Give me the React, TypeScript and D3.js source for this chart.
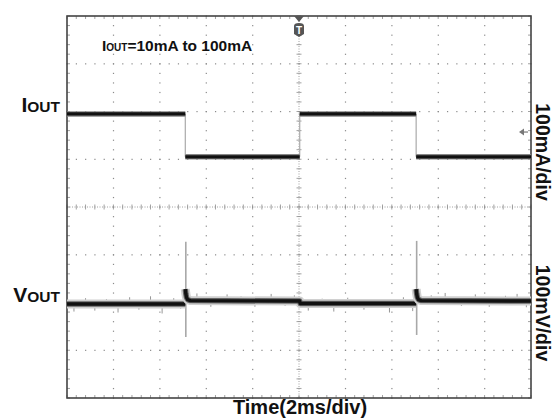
import React from "react";
import * as d3 from "d3";

// ---- data ----
// Time axis: 10 divisions x 2 ms
const timeDomain = [0, 20];
const divCountX = 10;
const divCountY = 8;

// Output current trace (mA), 100 mA/div
const iTimes = [0, 5.1, 5.1, 10.03, 10.03, 15.05, 15.05, 20];
const iValues = [100, 100, 10, 10, 100, 100, 10, 10];

// Output voltage trace (mV deviation, AC coupled), 100 mV/div
const vTimes = [0, 5.1, 5.1, 5.12, 5.15, 5.2, 5.32, 10.03, 10.05, 15.05, 15.05, 15.07, 15.1, 15.15, 15.27, 20];
const vValues = [-4, -4, 27, 18, 10, 5, 3, 2, -3, -3, 27, 18, 10, 5, 3, 2];

// Load-step spikes on VOUT
const spikeTimes = [5.1, 15.05];
const spikeMax = [126, 128];
const spikeMin = [-73, -69];

// Occasional noise whiskers on VOUT (time ms, mV)
const noiseT = [0.3, 0.8, 1.2, 1.7, 2.2, 2.7, 3.1, 3.6, 4.1, 4.6, 4.9, 5.6, 6.2, 6.9, 7.5, 8.1, 8.8, 9.4, 9.8, 10.4, 11.0, 11.5, 12.1, 12.8, 13.4, 13.9, 14.5, 14.9, 15.7, 16.3, 17.0, 17.6, 18.2, 18.9, 19.4, 19.8];
const noiseV = [-16, 12, -14, 10, -18, 14, -12, 16, -20, 12, -10, 16, -12, 14, 10, -12, 15, -10, 12, -14, 11, -16, 13, -12, 10, -18, 14, -15, 12, 17, -10, 14, -12, 11, 15, -13];

// Axis ranges per channel (full screen of 8 div)
const iDomain = [-495, 305];
const vDomain = [-201, 599];

const W = 558;
const H = 418;
const plot = { left: 67, right: 531, top: 16, bottom: 398 };

export default function App() {
  const x = d3.scaleLinear().domain(timeDomain).range([plot.left, plot.right]);
  const xDiv = d3.scaleLinear().domain([0, divCountX]).range([plot.left, plot.right]);
  const yDiv = d3.scaleLinear().domain([0, divCountY]).range([plot.top, plot.bottom]);
  const yI = d3.scaleLinear().domain(iDomain).range([plot.bottom, plot.top]);
  const yV = d3.scaleLinear().domain(vDomain).range([plot.bottom, plot.top]);

  const gridColor = "#8a8a8a";
  const minorX = d3.range(0, divCountX + 0.001, 0.2);
  const minorY = d3.range(0, divCountY + 0.001, 0.2);

  const dots: React.ReactNode[] = [];
  for (let gx = 1; gx < divCountX; gx++) {
    if (gx === 5) continue;
    minorY.forEach((my, k) =>
      dots.push(<rect key={`gx${gx}-${k}`} x={xDiv(gx) - 0.5} y={yDiv(my) - 0.5} width={1.2} height={1.2} fill={gridColor} />)
    );
  }
  for (let gy = 1; gy < divCountY; gy++) {
    if (gy === 4) continue;
    minorX.forEach((mx, k) =>
      dots.push(<rect key={`gy${gy}-${k}`} x={xDiv(mx) - 0.5} y={yDiv(gy) - 0.5} width={1.2} height={1.2} fill={gridColor} />)
    );
  }

  const frameTicks: React.ReactNode[] = [];
  minorX.forEach((mx, k) => {
    frameTicks.push(<line key={`ft${k}`} x1={xDiv(mx)} x2={xDiv(mx)} y1={plot.top} y2={plot.top + 3} stroke={gridColor} strokeWidth={0.8} />);
    frameTicks.push(<line key={`fb${k}`} x1={xDiv(mx)} x2={xDiv(mx)} y1={plot.bottom} y2={plot.bottom - 3} stroke={gridColor} strokeWidth={0.8} />);
    frameTicks.push(<line key={`cx${k}`} x1={xDiv(mx)} x2={xDiv(mx)} y1={yDiv(4) - 2.5} y2={yDiv(4) + 2.5} stroke={gridColor} strokeWidth={0.8} />);
  });
  minorY.forEach((my, k) => {
    frameTicks.push(<line key={`fl${k}`} y1={yDiv(my)} y2={yDiv(my)} x1={plot.left} x2={plot.left + 3} stroke={gridColor} strokeWidth={0.8} />);
    frameTicks.push(<line key={`fr${k}`} y1={yDiv(my)} y2={yDiv(my)} x1={plot.right} x2={plot.right - 3} stroke={gridColor} strokeWidth={0.8} />);
    frameTicks.push(<line key={`cy${k}`} y1={yDiv(my)} y2={yDiv(my)} x1={xDiv(5) - 2.5} x2={xDiv(5) + 2.5} stroke={gridColor} strokeWidth={0.8} />);
  });

  const iHoriz: React.ReactNode[] = [];
  const iVert: React.ReactNode[] = [];
  for (let k = 0; k < iTimes.length - 1; k++) {
    const x1 = x(iTimes[k]), x2 = x(iTimes[k + 1]);
    const y1 = yI(iValues[k]), y2 = yI(iValues[k + 1]);
    if (iTimes[k] === iTimes[k + 1]) {
      iVert.push(<line key={`iv${k}`} x1={x1} x2={x2} y1={y1} y2={y2} stroke="#b0b0b0" strokeWidth={1.3} />);
    } else {
      iHoriz.push(
        <g key={`ih${k}`}>
          <line x1={x1} x2={x2} y1={y1} y2={y2} stroke="#888" strokeWidth={5.5} />
          <line x1={x1} x2={x2} y1={y1} y2={y2} stroke="#111" strokeWidth={3.4} />
        </g>
      );
    }
  }

  const vPts = vTimes.map((t, k) => [x(t), yV(vValues[k])] as [number, number]);
  const vSegs: [number, number][][] = [];
  let cur: [number, number][] = [vPts[0]];
  for (let k = 1; k < vPts.length; k++) {
    if (vTimes[k] === vTimes[k - 1]) {
      vSegs.push(cur);
      cur = [vPts[k]];
    } else cur.push(vPts[k]);
  }
  vSegs.push(cur);
  const line = d3.line();

  const baseAt = (t: number) => ((t < 5.1 || (t > 10.03 && t < 15.05)) ? -4 : 2);

  return (
    <svg width={W} height={H} style={{ position: "absolute", left: 0, top: 0, background: "#fff" }} fontFamily="'Liberation Sans', Arial, sans-serif">
      <rect x={0} y={0} width={W} height={H} fill="#fff" />
      {dots}
      <line x1={plot.left} x2={plot.right} y1={yDiv(4)} y2={yDiv(4)} stroke={gridColor} strokeWidth={0.8} strokeDasharray="1,1.5" />
      <line x1={xDiv(5)} x2={xDiv(5)} y1={plot.top} y2={plot.bottom} stroke={gridColor} strokeWidth={0.8} strokeDasharray="1,1.5" />
      {frameTicks}
      <rect x={plot.left} y={plot.top} width={plot.right - plot.left} height={plot.bottom - plot.top} fill="none" stroke="#444" strokeWidth={1.6} />

      {/* VOUT noise whiskers */}
      {noiseT.map((t, k) => (
        <line key={`n${k}`} x1={x(t)} x2={x(t)} y1={yV(baseAt(t))} y2={yV(baseAt(t) + noiseV[k])} stroke="#8a8a8a" strokeWidth={0.9} />
      ))}
      {/* VOUT spikes */}
      {spikeTimes.map((t, k) => (
        <line key={`s${k}`} x1={x(t) + 0.5} x2={x(t) + 0.5} y1={yV(spikeMax[k])} y2={yV(spikeMin[k])} stroke="#a8a8a8" strokeWidth={1.6} />
      ))}
      {/* VOUT trace */}
      {vSegs.map((s, k) => (
        <g key={`vs${k}`}>
          <path d={line(s) || ""} fill="none" stroke="#d0d0d0" strokeWidth={9} strokeLinejoin="round" />
          <path d={line(s) || ""} fill="none" stroke="#666" strokeWidth={5.5} strokeLinejoin="round" />
          <path d={line(s) || ""} fill="none" stroke="#111" strokeWidth={3.4} strokeLinejoin="round" />
        </g>
      ))}

      {iVert}
      {iHoriz}

      {/* trigger marker */}
      <polygon points={`${xDiv(5) - 5},${plot.top} ${xDiv(5) + 5},${plot.top} ${xDiv(5)},${plot.top + 6}`} fill="#555" />
      <path d={`M${xDiv(5) - 5},${plot.top + 10} Q${xDiv(5) - 5},${plot.top + 7} ${xDiv(5)},${plot.top + 7} Q${xDiv(5) + 5},${plot.top + 7} ${xDiv(5) + 5},${plot.top + 10} L${xDiv(5) + 5},${plot.top + 18} L${xDiv(5)},${plot.top + 21} L${xDiv(5) - 5},${plot.top + 18} Z`} fill="#555" />
      <text x={xDiv(5)} y={plot.top + 17.5} textAnchor="middle" fontSize={10} fontWeight="bold" fill="#fff">T</text>
      {/* trigger level arrow */}
      <polygon points={`${plot.right - 12},${yI(62)} ${plot.right - 7},${yI(62) - 3.5} ${plot.right - 7},${yI(62) + 3.5}`} fill="#777" />
      <line x1={plot.right - 8} x2={plot.right - 3} y1={yI(62)} y2={yI(62)} stroke="#777" strokeWidth={1.2} />

      <text x={102} y={51} fontWeight="bold" fill="#111">
        <tspan fontSize={15.5}>I</tspan>
        <tspan fontSize={10}>OUT</tspan>
        <tspan fontSize={15.5}>=10mA to 100mA</tspan>
      </text>

      <text x={60} y={112} textAnchor="end" fontWeight="bold" fill="#111">
        <tspan fontSize={21}>I</tspan>
        <tspan fontSize={15.5}>OUT</tspan>
      </text>
      <text x={60} y={302} textAnchor="end" fontWeight="bold" fill="#111">
        <tspan fontSize={21}>V</tspan>
        <tspan fontSize={15.5}>OUT</tspan>
      </text>

      <text transform="translate(543,152) rotate(90)" textAnchor="middle" dominantBaseline="central" fontSize={19.5} fontWeight={700} style={{ fontWeight: 700 }} fill="#111">100mA/div</text>
      <text transform="translate(543,313) rotate(90)" textAnchor="middle" dominantBaseline="central" fontSize={19.5} fontWeight={700} style={{ fontWeight: 700 }} fill="#111">100mV/div</text>

      <text x={300} y={414} textAnchor="middle" fontSize={20} fontWeight="bold" fill="#111">Time(2ms/div)</text>
    </svg>
  );
}
